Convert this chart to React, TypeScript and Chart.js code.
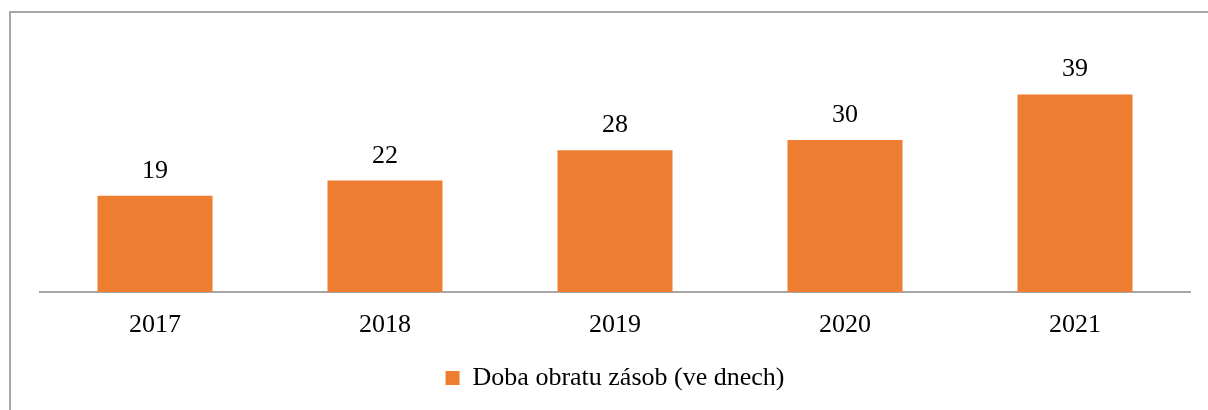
import React, { useEffect, useRef } from "react";
import { Chart, registerables } from "chart.js";

Chart.register(...registerables);

const categories = ["2017", "2018", "2019", "2020", "2021"];
const values = [19, 22, 28, 30, 39];
const seriesLabel = "Doba obratu zásob (ve dnech)";

const FONT = "'Liberation Serif', 'Times New Roman', serif";
const ORANGE = "#ED7D31";
const GRAY = "#A6A6A6";

const frame = {
  id: "frame",
  beforeDraw(chart: any) {
    const ctx = chart.ctx;
    ctx.save();
    ctx.strokeStyle = GRAY;
    ctx.lineWidth = 2;
    ctx.beginPath();
    ctx.moveTo(10, 410);
    ctx.lineTo(10, 12);
    ctx.lineTo(1208, 12);
    ctx.stroke();
    ctx.restore();
  },
};

const valueLabels = {
  id: "valueLabels",
  afterDatasetsDraw(chart: any) {
    const ctx = chart.ctx;
    const meta = chart.getDatasetMeta(0);
    ctx.save();
    ctx.font = `26px ${FONT}`;
    ctx.fillStyle = "#000";
    ctx.textAlign = "center";
    ctx.textBaseline = "alphabetic";
    meta.data.forEach((bar: any, i: number) => {
      ctx.fillText(String(values[i]), bar.x, bar.y - 18);
    });
    ctx.restore();
  },
};

export default function App() {
  const ref = useRef<HTMLCanvasElement>(null);
  useEffect(() => {
    const chart = new Chart(ref.current!, {
      type: "bar",
      data: {
        labels: categories,
        datasets: [
          {
            label: seriesLabel,
            data: values,
            backgroundColor: ORANGE,
            borderWidth: 0,
            categoryPercentage: 1,
            barPercentage: 0.5,
          },
        ],
      },
      options: {
        animation: false,
        responsive: false,
        layout: { padding: { left: 40, right: 18, top: 64, bottom: 9 } },
        scales: {
          x: {
            grid: { display: false, drawTicks: false },
            border: { display: true, color: GRAY, width: 2 },
            ticks: { color: "#000", font: { family: FONT, size: 26 }, padding: 18 },
            afterFit(scale: any) {
              scale.height = 63;
            },
          },
          y: {
            display: false,
            min: 0,
            max: 45,
          },
        },
        plugins: {
          legend: {
            position: "bottom",
            labels: {
              color: "#000",
              font: { family: FONT, size: 26 },
              boxWidth: 14,
              boxHeight: 14,
              padding: 10,
            },
          },
          tooltip: { enabled: false },
        },
      },
      plugins: [frame, valueLabels],
    });
    return () => chart.destroy();
  }, []);
  return (
    <canvas
      ref={ref}
      width={1208}
      height={410}
      style={{ position: "fixed", left: 0, top: 0, width: 1208, height: 410 }}
    />
  );
}
